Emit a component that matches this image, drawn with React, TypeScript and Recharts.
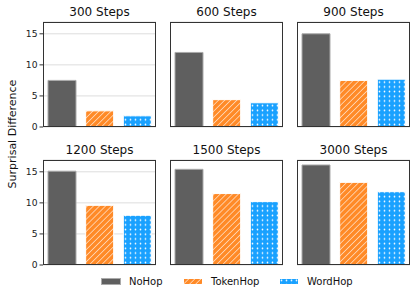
import React from 'react';
import { BarChart, Bar, Cell, XAxis, YAxis, CartesianGrid } from 'recharts';

const titles = ['300 Steps', '600 Steps', '900 Steps', '1200 Steps', '1500 Steps', '3000 Steps'];
const methods = ['NoHop', 'TokenHop', 'WordHop'];
const noHop = [7.5, 12.0, 15.0, 15.1, 15.4, 16.1];
const tokenHop = [2.6, 4.4, 7.5, 9.6, 11.5, 13.3];
const wordHop = [1.8, 3.9, 7.7, 8.0, 10.2, 11.8];
const yTicks = [0, 5, 10, 15];

const GRAY = '#5f5f5f';
const ORANGE = '#ff8a27';
const BLUE = '#19a1ff';
const FONT = '"DejaVu Sans", sans-serif';

const colX = [43, 170, 297];
const rowY = [22, 160];
const PW = 113;
const PH = 105;
const AXW = 30;

function Patterns({ id }: { id: string }) {
  return (
    <defs>
      <pattern id={`hatch-${id}`} patternUnits="userSpaceOnUse" width="4.3" height="4.3" patternTransform="rotate(45)">
        <rect width="4.3" height="4.3" fill={ORANGE} />
        <line x1="0" y1="0" x2="0" y2="4.3" stroke="#ffffff" strokeWidth="1.1" />
      </pattern>
      <pattern id={`dots-${id}`} patternUnits="userSpaceOnUse" width="5" height="4.7">
        <rect width="5" height="4.7" fill={BLUE} />
        <circle cx="2.5" cy="2.35" r="0.85" fill="#ffffff" />
      </pattern>
    </defs>
  );
}

function Panel({ i }: { i: number }) {
  const col = i % 3;
  const row = Math.floor(i / 3);
  const px = colX[col];
  const py = rowY[row];
  const id = `p${i}`;
  const data = [
    { name: methods[0], value: noHop[i] },
    { name: methods[1], value: tokenHop[i] },
    { name: methods[2], value: wordHop[i] },
  ];
  const fills = [GRAY, `url(#hatch-${id})`, `url(#dots-${id})`];
  const strokes = ['#aaaaaa', '#ffffff', '#ffffff'];
  return (
    <>
      <div
        style={{
          position: 'absolute',
          left: px,
          width: PW,
          top: py - 18,
          textAlign: 'center',
          fontFamily: FONT,
          fontSize: 12,
          lineHeight: '16px',
          color: '#111',
        }}
      >
        {titles[i]}
      </div>
      <div style={{ position: 'absolute', left: px - AXW, top: py - 8 }}>
        <BarChart
          width={PW + AXW}
          height={PH + 16}
          data={data}
          margin={{ top: 8, right: 0, bottom: 8, left: 0 }}
        >
          <Patterns id={id} />
          <CartesianGrid vertical={false} stroke="#dddddd" />
          <XAxis dataKey="name" hide />
          <YAxis
            type="number"
            domain={[0, 16.9]}
            ticks={yTicks}
            width={AXW}
            axisLine={false}
            tickSize={3.5}
            tickLine={{ stroke: '#333' }}
            tick={col === 0 ? { fontSize: 9.2, fill: '#222', fontFamily: FONT } : false}
            allowDataOverflow
          />
          <Bar dataKey="value" barSize={28} isAnimationActive={false}>
            {data.map((d, k) => (
              <Cell key={d.name} fill={fills[k]} stroke={strokes[k]} strokeWidth={1} />
            ))}
          </Bar>
        </BarChart>
      </div>
      <div
        style={{
          position: 'absolute',
          left: px,
          top: py,
          width: PW,
          height: PH,
          boxSizing: 'border-box',
          border: '1px solid #333',
          pointerEvents: 'none',
        }}
      />
    </>
  );
}

const legendX = [101, 183, 279];

export default function App() {
  return (
    <div style={{ position: 'absolute', left: 0, top: 0, width: 416, height: 298, background: '#fff', overflow: 'hidden' }}>
      {titles.map((t, i) => (
        <Panel key={t} i={i} />
      ))}
      <div
        style={{
          position: 'absolute',
          left: 12,
          top: 134,
          transform: 'translate(-50%, -50%) rotate(-90deg)',
          whiteSpace: 'nowrap',
          fontFamily: FONT,
          fontSize: 11,
          color: '#111',
        }}
      >
        Surprisal Difference
      </div>
      {methods.map((m, k) => (
        <div
          key={m}
          style={{ position: 'absolute', left: legendX[k], top: 274, height: 14, display: 'flex', alignItems: 'center' }}
        >
          <svg width={20} height={7} style={{ display: 'block' }}>
            <Patterns id={`lg${k}`} />
            <rect
              x={0.5}
              y={0.5}
              width={19}
              height={6}
              fill={k === 0 ? GRAY : k === 1 ? `url(#hatch-lg${k})` : `url(#dots-lg${k})`}
              stroke={k === 0 ? '#aaaaaa' : '#ffffff'}
            />
          </svg>
          <span style={{ marginLeft: 8, fontFamily: FONT, fontSize: 10, color: '#111' }}>{m}</span>
        </div>
      ))}
    </div>
  );
}
